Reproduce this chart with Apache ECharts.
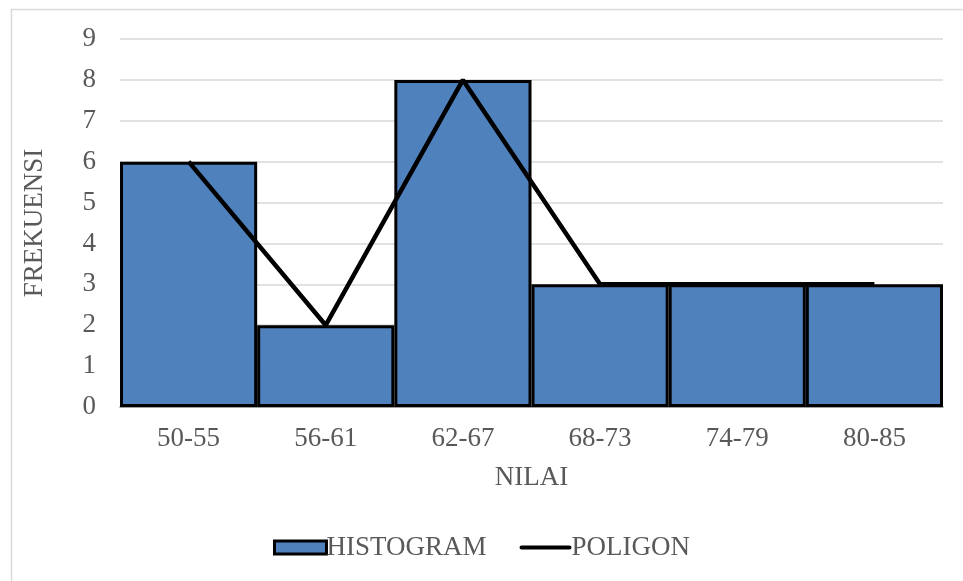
<!DOCTYPE html>
<html><head><meta charset="utf-8">
<script src="https://cdn.jsdelivr.net/npm/echarts@6/dist/echarts.min.js"></script>
<style>html,body{margin:0;padding:0;background:#fff}#c{width:963px;height:581px}</style>
</head><body><div id="c"></div>
<script>
const categories = ['50-55','56-61','62-67','68-73','74-79','80-85'];
const histogram = [6,2,8,3,3,3];
const poligon = [6,2,8,3,3,3];
const yTicks = [0,1,2,3,4,5,6,7,8,9];

const chart = echarts.init(document.getElementById('c'));
const font = '"Liberation Serif", "Times New Roman", serif';
chart.setOption({
  animation:false,
  backgroundColor:'#fff',
  graphic:[{type:'rect',shape:{x:11.5,y:9.5,width:1000,height:700},style:{fill:'none',stroke:'#d9d9d9',lineWidth:1.5},silent:true}],
  grid:{left:120,right:20,top:39,bottom:174,containLabel:false},
  xAxis:{type:'category',data:categories,
    axisLine:{lineStyle:{color:'#898989',width:1.5}},axisTick:{show:false},
    axisLabel:{color:'#595959',fontFamily:font,fontSize:27,margin:18},
    name:'NILAI',nameLocation:'middle',nameGap:57,
    nameTextStyle:{color:'#595959',fontFamily:font,fontSize:27}},
  yAxis:{type:'value',min:yTicks[0],max:yTicks[yTicks.length-1],interval:1,
    axisLine:{show:false},axisTick:{show:false},
    splitLine:{lineStyle:{color:'#d9d9d9',width:1.5}},
    axisLabel:{color:'#595959',fontFamily:font,fontSize:27,margin:24},
    name:'FREKUENSI',nameLocation:'middle',nameGap:72,
    nameTextStyle:{color:'#595959',fontFamily:font,fontSize:27}},
  legend:{bottom:15,left:'center',itemGap:33,itemWidth:52,itemHeight:13,
    textStyle:{color:'#595959',fontFamily:font,fontSize:27,padding:[0,0,0,-5]},
    data:[{name:'HISTOGRAM',icon:'rect',itemStyle:{color:'#4F81BD',borderColor:'#000',borderWidth:3}},
          {name:'POLIGON',icon:'path://M0,0L0.01,0ZM52,13L51.99,13ZM2,4.5L50,4.5A2,2 0 0 1 50,8.5L2,8.5A2,2 0 0 1 2,4.5Z'}]},
  series:[
    {name:'HISTOGRAM',type:'bar',data:histogram,barCategoryGap:'0%',
      itemStyle:{color:'#4F81BD',borderColor:'#000',borderWidth:3}},
    {name:'POLIGON',type:'line',data:poligon,symbol:'none',
      lineStyle:{color:'#000',width:4.5},itemStyle:{color:'#000'}}
  ]
});
</script></body></html>
